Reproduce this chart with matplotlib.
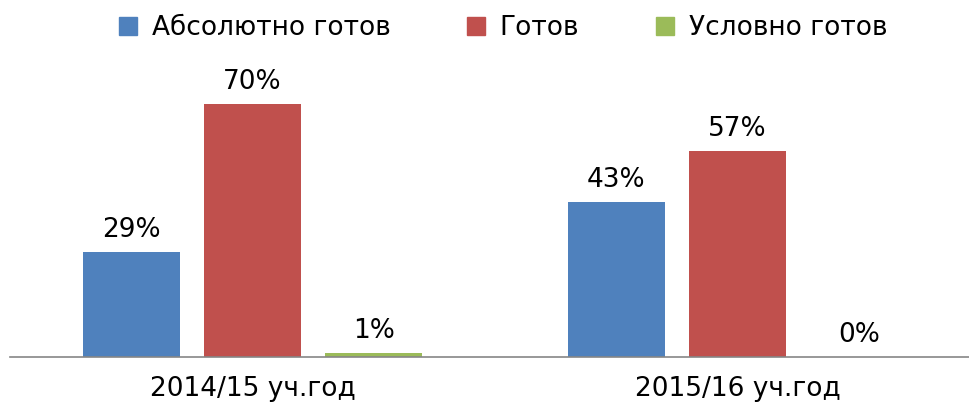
import numpy as np
import matplotlib.pyplot as plt
from matplotlib.patches import Patch

# данные
years = ['2014/15 уч.год', '2015/16 уч.год']
series = ['Абсолютно готов', 'Готов', 'Условно готов']
absolute = [29, 43]
ready = [70, 57]
conditional = [1, 0]
colors = ['#4F81BD', '#C0504D', '#9BBB59']

values = [absolute, ready, conditional]

fig = plt.figure(figsize=(9.69, 4.05), dpi=100)
ax = fig.add_axes([10 / 969, 48 / 405, 970 / 969, 289 / 405])

x = np.arange(len(years))
width = 0.2
offsets = [-0.25, 0, 0.25]
for vals, off, col, name in zip(values, offsets, colors, series):
    bars = ax.bar(x + off, vals, width, color=col, label=name)
    for b, v in zip(bars, vals):
        ax.text(b.get_x() + b.get_width() / 2, v + 2.5, '%d%%' % v,
                ha='center', va='bottom', fontsize=19, color='black')

ax.set_xlim(-0.5, 1.5)
ax.set_ylim(0, 80)
ax.set_yticks([])
ax.set_xticks(x)
ax.set_xticklabels(years, fontsize=19)
ax.tick_params(axis='x', length=0, pad=14)
for s in ['top', 'right', 'left']:
    ax.spines[s].set_visible(False)
ax.spines['bottom'].set_color('#868686')
ax.spines['bottom'].set_linewidth(1.2)

# легенда
handles = [Patch(color=c, label=n) for c, n in zip(colors, series)]
fig.legend(handles=handles, loc='center', bbox_to_anchor=(503 / 969, 1 - 28 / 405),
           ncol=3, frameon=False, fontsize=19, handlelength=0.7, handleheight=0.7,
           handletextpad=0.55, columnspacing=2.9)

fig.savefig('out.png', dpi=100)
